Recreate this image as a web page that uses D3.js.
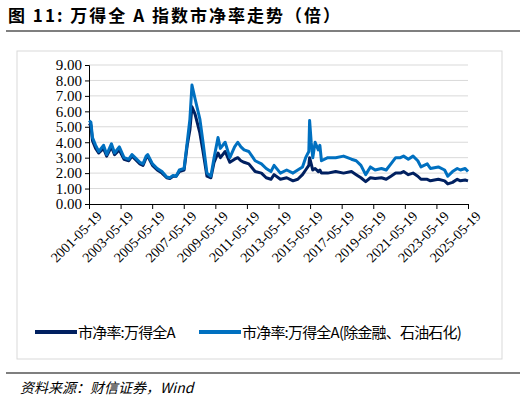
<!DOCTYPE html><html><head><meta charset="utf-8"><script src="https://cdn.jsdelivr.net/npm/d3@7"></script>
<style>body{margin:0;background:#fff}</style></head><body><svg id="c" width="526" height="405"></svg><script>
const yearsB=[2001.38,2001.5,2001.6,2001.8,2002.0,2002.3,2002.5,2002.8,2003.0,2003.3,2003.6,2003.9,2004.1,2004.3,2004.6,2004.8,2005.0,2005.1,2005.4,2005.7,2006.0,2006.3,2006.5,2006.7,2006.9,2007.1,2007.4,2007.6,2007.77,2007.9,2008.1,2008.4,2008.6,2008.85,2009.1,2009.3,2009.55,2009.7,2010.0,2010.3,2010.6,2010.8,2011.0,2011.2,2011.5,2011.9,2012.3,2012.6,2012.9,2013.1,2013.5,2013.9,2014.3,2014.6,2014.9,2015.1,2015.3,2015.35,2015.45,2015.55,2015.7,2015.9,2016.0,2016.1,2016.5,2017.0,2017.5,2018.0,2018.3,2018.6,2018.9,2019.2,2019.5,2019.9,2020.2,2020.5,2020.8,2021.1,2021.3,2021.6,2021.9,2022.2,2022.4,2022.8,2023.0,2023.5,2023.9,2024.1,2024.4,2024.7,2024.9,2025.2,2025.38];
const valuesB=[5.4,5.3,4.3,3.8,3.4,3.8,3.2,3.9,3.3,3.7,3.0,2.9,3.2,3.0,2.7,2.6,3.1,3.2,2.6,2.3,2.1,1.75,1.7,1.85,1.8,2.2,2.3,4.0,5.5,7.7,6.8,5.5,4.0,2.0,1.8,3.0,4.3,3.6,4.0,3.0,3.7,4.0,3.7,3.5,3.4,2.8,2.6,2.3,2.1,2.5,2.0,2.2,2.0,2.2,2.4,3.0,3.4,5.4,4.0,3.0,4.0,3.5,3.8,2.8,3.0,3.0,3.1,2.9,2.8,2.5,1.9,2.4,2.2,2.3,2.2,2.6,3.0,3.0,3.1,2.9,3.1,2.8,2.4,2.6,2.3,2.4,2.2,1.8,2.1,2.3,2.2,2.3,2.1];
const valuesA=[5.2,5.1,4.1,3.6,3.3,3.6,3.1,3.7,3.2,3.5,2.9,2.8,3.1,2.9,2.6,2.5,3.0,3.1,2.5,2.2,2.0,1.7,1.65,1.8,1.8,2.1,2.2,3.8,4.8,6.3,5.8,4.6,3.4,1.8,1.7,2.7,3.3,3.0,3.4,2.7,2.9,3.0,2.8,2.7,2.6,2.1,2.0,1.7,1.6,1.9,1.6,1.7,1.5,1.6,1.9,2.2,2.5,3.0,2.6,2.2,2.3,2.1,2.2,2.0,2.0,2.1,2.0,2.1,1.9,1.7,1.45,1.7,1.65,1.7,1.6,1.8,2.0,2.0,2.1,1.9,2.0,1.8,1.6,1.6,1.5,1.6,1.5,1.3,1.4,1.6,1.5,1.55,1.5];
const tickYears=[2001,2003,2005,2007,2009,2011,2013,2015,2017,2019,2021,2023,2025];
const yTicks=[0,1,2,3,4,5,6,7,8,9];
const names=["市净率:万得全A","市净率:万得全A(除金融、石油石化)"];
const colors=["#002060","#0070C0"];

const svg=d3.select("#c");
const x=d3.scaleLinear().domain([2001.38,2025.38]).range([89,468]);
const y=d3.scaleLinear().domain([0,9]).range([204,65]);
svg.append("text").attr("x",8).attr("y",22).style("font-family","'Noto Sans CJK SC'").style("font-weight","bold").style("font-size","17px").attr("letter-spacing",2).text("图 11: 万得全 A 指数市净率走势（倍）");
svg.append("line").attr("x1",6).attr("x2",520).attr("y1",31).attr("y2",31).attr("stroke","#000").attr("stroke-width",1.2);
svg.append("rect").attr("x",17).attr("y",51).attr("width",485).attr("height",308).attr("fill","none").attr("stroke","#d9d9d9");
svg.append("line").attr("x1",6).attr("x2",520).attr("y1",373).attr("y2",373).attr("stroke","#000").attr("stroke-width",1.2);
svg.append("text").attr("x",20).attr("y",393).style("font-family","'Noto Sans CJK SC'").style("font-style","italic").style("font-size","14px").text("资料来源：财信证券，Wind");
const g=svg.append("g");
g.selectAll("line.grid").data(yTicks.slice(1)).join("line").attr("x1",89).attr("x2",468).attr("y1",d=>y(d)).attr("y2",d=>y(d)).attr("stroke","#d9d9d9");
const ya=svg.append("g").attr("transform","translate(89,0)").call(d3.axisLeft(y).tickValues(yTicks).tickFormat(d3.format(".2f")).tickSize(4));
ya.attr("font-family",null).attr("font-size",null);
ya.selectAll("text").style("font-family","'Liberation Serif'").style("font-size","15px").attr("fill","#000");
ya.select(".domain").attr("stroke","#000");
const xa=svg.append("g").attr("transform","translate(0,204)").call(d3.axisBottom(x).tickValues(tickYears.map(v=>v+0.38)).tickFormat((d,i)=>tickYears[i]+"-05-19").tickSize(5));
xa.attr("font-family",null).attr("font-size",null);
xa.selectAll("text").style("font-family","'Liberation Serif'").style("font-size","14px").attr("fill","#000").attr("text-anchor","end").attr("transform","translate(4,4) rotate(-45)").attr("dy","0.35em").attr("dx","0");
xa.select(".domain").attr("stroke","#000");
const line=d3.line().x((d,i)=>x(yearsB[i])).y(d=>y(d));
[valuesA,valuesB].forEach((vals,k)=>{
 svg.append("path").attr("d",line(vals)).attr("fill","none").attr("stroke",colors[k]).attr("stroke-width",3).attr("stroke-linejoin","round");
});
const lg=[[35,80],[199,244]];
names.forEach((n,k)=>{
 svg.append("line").attr("x1",lg[k][0]).attr("x2",lg[k][1]-3).attr("y1",332).attr("y2",332).attr("stroke",colors[k]).attr("stroke-width",4);
 svg.append("text").attr("x",lg[k][1]-2).attr("y",338).style("font-family","'Noto Sans CJK SC'").style("font-size","15px").attr("letter-spacing",-0.8).text(n);
});
</script></body></html>
